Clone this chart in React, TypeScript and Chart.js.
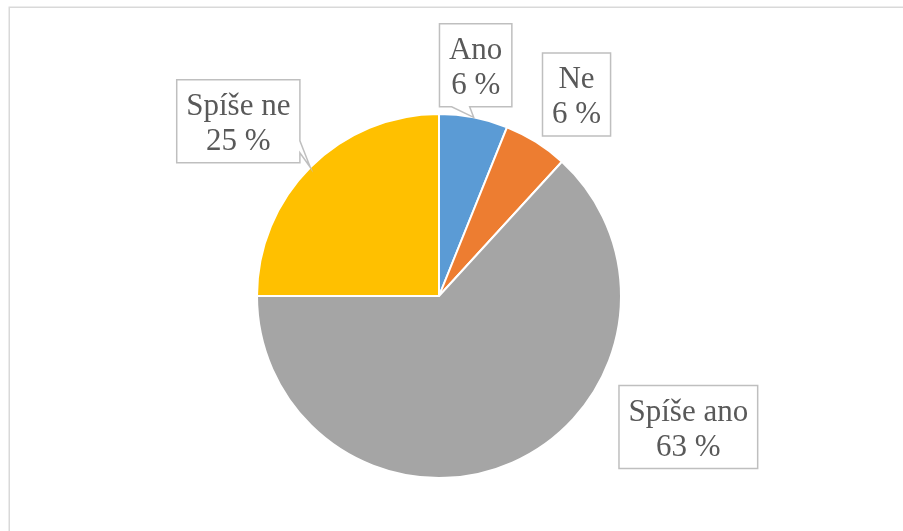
import React, { useEffect, useRef } from "react";
import { Chart, registerables } from "chart.js";

Chart.register(...registerables);

const categories = ["Ano", "Ne", "Spíše ano", "Spíše ne"];
const shares = [6.1, 5.7, 63.2, 25.0];
const sliceColors = ["#5B9BD5", "#ED7D31", "#A5A5A5", "#FFC000"];

// label box placement relative to slice's outer mid-point (layout only)
const labelOffsets = [
  { dx: 2, dy: -52, callout: "bottom", a: -24, b: -6 },
  { dx: 40.5, dy: -47.5, callout: "none", a: 0, b: 0 },
  { dx: 176, dy: -35.5, callout: "none", a: 0, b: 0 },
  { dx: -72, dy: -46, callout: "right", a: 19.5, b: 31.5 },
];

const FONT = "31px 'Liberation Serif', 'Times New Roman', serif";

const labelPlugin = {
  id: "boxLabels",
  beforeDraw(chart: any) {
    const ctx = chart.ctx;
    ctx.save();
    ctx.fillStyle = "#ffffff";
    ctx.fillRect(0, 0, chart.width, chart.height);
    ctx.strokeStyle = "#d9d9d9";
    ctx.lineWidth = 1.5;
    ctx.strokeRect(9.25, 7.25, 2000, 2000);
    ctx.restore();
  },
  afterDatasetsDraw(chart: any) {
    const ctx = chart.ctx;
    const meta = chart.getDatasetMeta(0);
    const data = chart.data.datasets[0].data as number[];
    const total = data.reduce((s, v) => s + v, 0);
    ctx.save();
    ctx.font = FONT;
    meta.data.forEach((arc: any, i: number) => {
      const mid = (arc.startAngle + arc.endAngle) / 2;
      const ax = arc.x + Math.cos(mid) * arc.outerRadius;
      const ay = arc.y + Math.sin(mid) * arc.outerRadius;
      const off = labelOffsets[i];
      const cx = ax + off.dx;
      const cy = ay + off.dy;
      const line1 = chart.data.labels[i] as string;
      const line2 = Math.round((data[i] / total) * 100) + " %";
      const w = Math.max(ctx.measureText(line1).width, ctx.measureText(line2).width) + 19;
      const h = 83;
      const l = cx - w / 2;
      const t = cy - h / 2;
      const r = l + w;
      const b = t + h;
      ctx.beginPath();
      ctx.moveTo(l, t);
      ctx.lineTo(r, t);
      if (off.callout === "right") {
        ctx.lineTo(r, cy + off.a);
        ctx.lineTo(ax, ay);
        ctx.lineTo(r, cy + off.b);
      }
      ctx.lineTo(r, b);
      if (off.callout === "bottom") {
        ctx.lineTo(cx + off.b, b);
        ctx.lineTo(ax, ay);
        ctx.lineTo(cx + off.a, b);
      }
      ctx.lineTo(l, b);
      ctx.closePath();
      ctx.fillStyle = "#ffffff";
      ctx.fill();
      ctx.strokeStyle = "#bfbfbf";
      ctx.lineWidth = 1.5;
      ctx.stroke();
      ctx.fillStyle = "#595959";
      ctx.textAlign = "center";
      ctx.textBaseline = "alphabetic";
      ctx.fillText(line1, cx, t + 35);
      ctx.fillText(line2, cx, t + 70);
    });
    ctx.restore();
  },
};

export default function App() {
  const ref = useRef<HTMLCanvasElement>(null);
  useEffect(() => {
    if (!ref.current) return;
    const chart = new Chart(ref.current, {
      type: "pie",
      data: {
        labels: categories,
        datasets: [
          {
            data: shares,
            backgroundColor: sliceColors,
            borderColor: "#ffffff",
            borderWidth: 2,
          },
        ],
      },
      options: {
        responsive: false,
        animation: false,
        layout: { padding: { top: 113, bottom: 52, left: 256, right: 281 } },
        plugins: {
          legend: { display: false },
          tooltip: { enabled: false },
        },
      },
      plugins: [labelPlugin],
    });
    return () => chart.destroy();
  }, []);
  return (
    <div style={{ position: "absolute", left: 0, top: 0, width: 903, height: 531 }}>
      <canvas ref={ref} width={903} height={531} style={{ display: "block" }} />
    </div>
  );
}
